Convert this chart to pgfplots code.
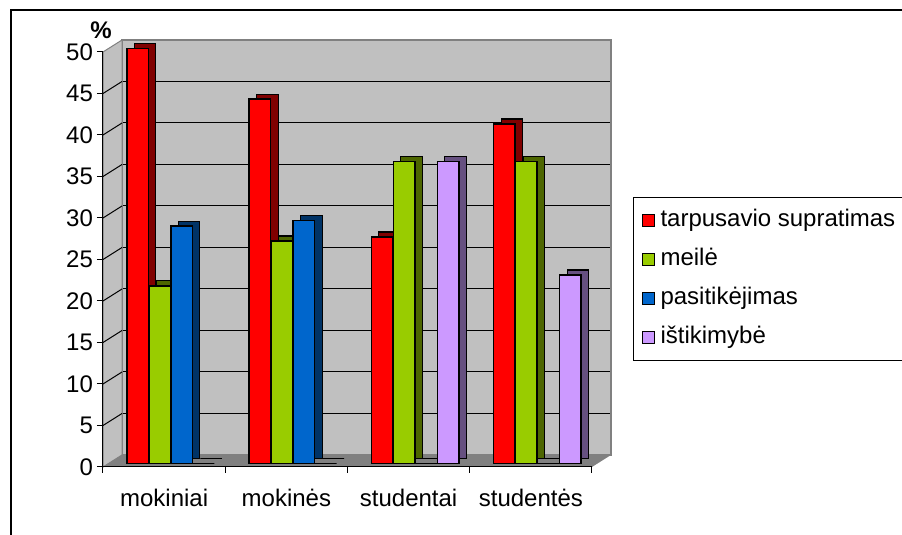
\documentclass[border=0pt]{standalone}
\usepackage{pgfplots}
\pgfplotsset{compat=1.18}
\usepackage{pgfplotstable}
\usepackage{fontspec}
\setmainfont{Liberation Sans}

\definecolor{wall}{HTML}{C0C0C0}
\definecolor{floorc}{HTML}{808080}
\definecolor{cred}{HTML}{FF0000}
\definecolor{credside}{HTML}{800000}
\definecolor{cgreen}{HTML}{99CC00}
\definecolor{cgreenside}{HTML}{4D6600}
\definecolor{cblue}{HTML}{0066CC}
\definecolor{cblueside}{HTML}{003366}
\definecolor{cpurple}{HTML}{CC99FF}
\definecolor{cpurpleside}{HTML}{665080}

% category, tarpusavio supratimas, meile, pasitikejimas, istikimybe
\pgfplotstableread{
cat red green blue purple
0 50.0 21.4 28.6 0
1 43.9 26.8 29.3 0
2 27.3 36.4 0 36.4
3 40.9 36.4 0 22.7
}\datatable

\begin{document}
\begin{tikzpicture}
% outer chart frame
\draw[line width=1pt] (5.5pt,0pt) -- (5.5pt,262.5pt) -- (453pt,262.5pt);

% back wall
\begin{axis}[
    at={(61pt,40pt)}, anchor=south west,
    scale only axis, width=244.5pt, height=207.5pt,
    xmin=0, xmax=1, ymin=0, ymax=50,
    xtick=\empty, ytick={5,10,...,45}, yticklabels={},
    major tick length=0pt,
    ymajorgrids, grid style={black, line width=0.5pt},
    axis background/.style={fill=wall},
    axis line style={floorc, line width=0.75pt},
]
\end{axis}

% side wall and floor
\filldraw[fill=wall, draw=floorc, line width=0.5pt] (51.5pt,34pt) -- (51.5pt,241.5pt) -- (61pt,247.5pt) -- (61pt,40pt) -- cycle;
\foreach \v in {5,10,...,45} {
  \draw[black, line width=0.5pt] (51.5pt,34pt+\v*4.15pt) -- (61pt,40pt+\v*4.15pt);
}
\fill[floorc] (51.5pt,34pt) -- (296pt,34pt) -- (305.5pt,40pt) -- (61pt,40pt) -- cycle;

% front axis with ticks and labels
\begin{axis}[
    at={(51.5pt,34pt)}, anchor=south west,
    scale only axis, width=244.5pt, height=207.5pt,
    xmin=-0.5, xmax=3.5, ymin=0, ymax=50,
    axis lines*=left, axis line style={-, black, line width=0.5pt},
    xtick={0,1,2,3},
    xticklabels={mokiniai,mokinės,studentai,studentės},
    minor xtick={-0.5,0.5,1.5,2.5,3.5},
    ytick={0,5,...,50},
    tick align=outside,
    major tick length=3pt, minor tick length=3pt,
    major x tick style={draw=none},
    tick style={black, line width=0.5pt},
    tick label style={font=\fontsize{12}{14}\selectfont},
    xticklabel style={text height=9pt, text depth=2.5pt, yshift=-4pt},
    yticklabel style={xshift=1.5pt},
    /pgf/number format/assume math mode=true,
]
\end{axis}

\node[font=\fontsize{12}{14}\selectfont\bfseries] at (50.5pt,252.5pt) {\%};

% bars
\begin{axis}[
    at={(54.75pt,35.75pt)}, anchor=south west,
    scale only axis, width=244.5pt, height=207.5pt,
    xmin=-0.5, xmax=3.5, ymin=0, ymax=50,
    hide axis, clip=false,
    ybar, bar width=10.75pt,
    legend style={at={(1.0706,0.642)}, anchor=north west,
        draw=black, line width=0.5pt,
        font=\fontsize{12}{14}\selectfont,
        inner xsep=4pt, inner ysep=5pt, row sep=6.5pt,
        nodes={inner sep=1pt, text height=8.5pt, text depth=2.5pt}},
    legend cell align=left,
    legend image code/.code={\draw[#1, line width=0.5pt] (0pt,-3pt) rectangle (6pt,3pt);},
    legend style={/tikz/every odd column/.append style={column sep=2pt}},
]
\addplot[forget plot, fill=credside, draw=black, line width=0.6pt, bar shift=-16.5pt, xshift=3.75pt, yshift=2.5pt] table[x=cat, y=red] {\datatable};
\addplot[forget plot, fill=cgreenside, draw=black, line width=0.6pt, bar shift=-5.5pt, xshift=3.75pt, yshift=2.5pt] table[x=cat, y=green] {\datatable};
\addplot[forget plot, fill=cblueside, draw=black, line width=0.6pt, bar shift=5.5pt, xshift=3.75pt, yshift=2.5pt] table[x=cat, y=blue] {\datatable};
\addplot[forget plot, fill=cpurpleside, draw=black, line width=0.6pt, bar shift=16.5pt, xshift=3.75pt, yshift=2.5pt] table[x=cat, y=purple] {\datatable};

\addplot[fill=cred, draw=black, line width=0.75pt, bar shift=-16.5pt] table[x=cat, y=red] {\datatable};
\addplot[fill=cgreen, draw=black, line width=0.75pt, bar shift=-5.5pt] table[x=cat, y=green] {\datatable};
\addplot[fill=cblue, draw=black, line width=0.75pt, bar shift=5.5pt] table[x=cat, y=blue] {\datatable};
\addplot[fill=cpurple, draw=black, line width=0.75pt, bar shift=16.5pt] table[x=cat, y=purple] {\datatable};
\legend{tarpusavio supratimas, meilė, pasitikėjimas, ištikimybė}
\end{axis}

\pgfresetboundingbox
\useasboundingbox (0pt,0pt) rectangle (451pt,267.5pt);
\end{tikzpicture}
\end{document}
